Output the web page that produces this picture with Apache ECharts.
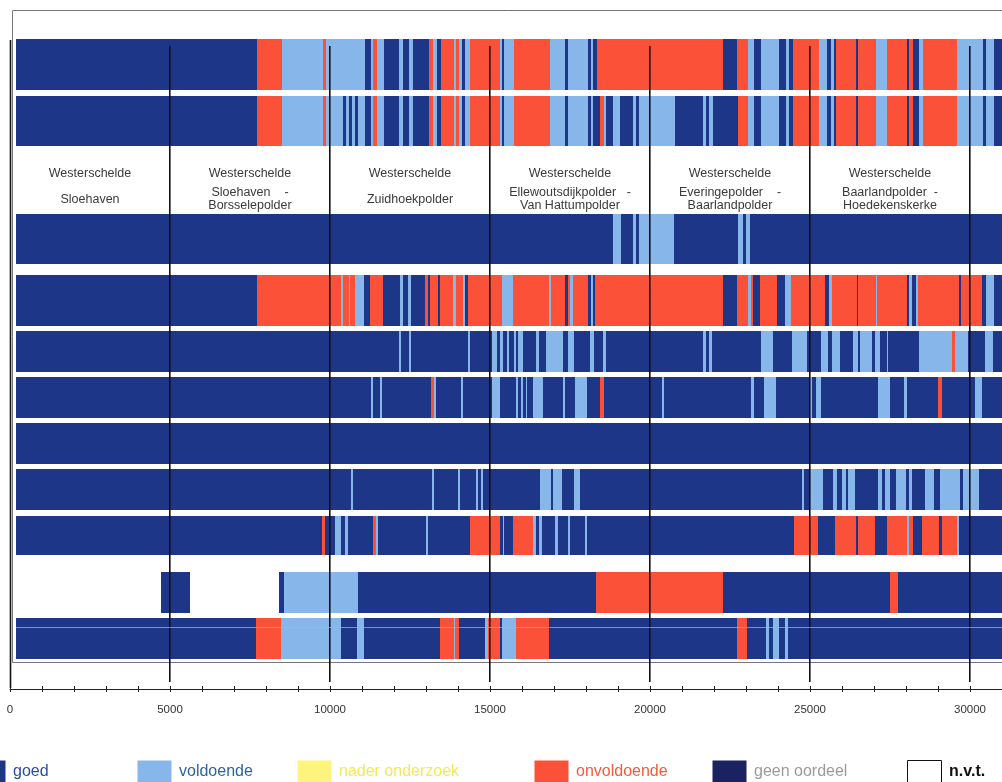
<!DOCTYPE html>
<html><head><meta charset="utf-8">
<script src="https://cdn.jsdelivr.net/npm/echarts@6/dist/echarts.min.js"></script>
<style>html,body{margin:0;padding:0;background:#fff;overflow:hidden}#c{width:1002px;height:782px}</style>
</head><body><div id="c"></div>
<script>
// ---- data (dike position in metres, status code from that position onward) ----
const DIKE_END = 31000;
const STATUS_CODES = ['g','v','n','o','x','-'];
const STATUS_LABELS = ['goed','voldoende','nader onderzoek','onvoldoende','geen oordeel','n.v.t.'];

const row1 = [190,'g',7720,'o',8500,'v',9780,'o',9880,'v',11090,'g',11280,'v',11340,'o',11470,'v',11690,'g',12160,'v',12280,'g',12470,'v',12590,'g',13090,'o',13220,'v',13340,'g',13470,'o',13880,'v',13940,'o',14030,'v',14130,'g',14220,'v',14380,'o',15310,'v',15380,'g',15440,'v',15750,'o',16880,'v',17340,'g',17440,'v',18060,'g',18160,'v',18220,'g',18340,'o',22280,'g',22720,'o',23060,'v',23250,'g',23470,'v',24030,'g',24250,'v',24340,'g',24470,'o',25280,'v',25530,'g',25660,'v',25750,'g',25810,'o',26440,'g',26500,'o',27060,'v',27410,'o',28030,'g',28090,'o',28220,'g',28410,'v',28530,'o',29590,'v',30410,'g',30500,'v',30750,'g'];
const row2 = [190,'g',7720,'o',8500,'v',9780,'o',9880,'v',10410,'g',10500,'v',10590,'g',10690,'v',10780,'g',10880,'v',11090,'g',11280,'v',11340,'o',11470,'v',11690,'g',12160,'v',12280,'g',12470,'v',12590,'g',13090,'o',13220,'v',13340,'g',13470,'o',13880,'v',13940,'o',14030,'v',14130,'g',14220,'v',14380,'o',15310,'v',15380,'g',15440,'v',15750,'o',16880,'v',17340,'g',17440,'v',18050,'g',18160,'v',18230,'g',18440,'o',18560,'v',18630,'g',18830,'v',19060,'g',19480,'v',19560,'g',19670,'v',20780,'g',21660,'v',21750,'g',21850,'v',21960,'g',22750,'o',23070,'v',23250,'g',23470,'v',24030,'g',24250,'v',24340,'g',24470,'o',25280,'v',25530,'g',25660,'v',25750,'g',25810,'o',26440,'g',26500,'o',27060,'v',27410,'o',28030,'g',28090,'o',28220,'g',28410,'v',28530,'o',29590,'v',30410,'g',30500,'v',30750,'g'];
const row3 = [190,'g',18840,'v',19090,'g',19470,'v',19560,'g',19660,'v',20750,'g',22750,'v',22910,'g',23000,'v',23130,'g'];
const row4 = [190,'g',7720,'o',10340,'v',10410,'o',10590,'v',10630,'o',10780,'v',11060,'g',11250,'o',11660,'g',12190,'v',12280,'g',12440,'v',12530,'g',12970,'o',13060,'g',13130,'o',13380,'g',13440,'o',13840,'v',13940,'o',14160,'v',14220,'g',14310,'o',15380,'v',15720,'o',16840,'v',16910,'o',17340,'g',17440,'o',17500,'v',17590,'o',18060,'g',18160,'v',18220,'g',18280,'o',22280,'g',22720,'o',23060,'v',23160,'o',23220,'g',23440,'o',23970,'g',24220,'v',24410,'o',25470,'g',25590,'v',25690,'o',26470,'g',26500,'o',27060,'v',27090,'o',28030,'g',28090,'v',28190,'g',28310,'v',28380,'o',29660,'g',29720,'o',30380,'g',30500,'v',30750,'g'];
const row5 = [190,'g',12160,'v',12220,'g',12470,'v',12530,'g',14310,'v',14380,'g',15060,'v',15220,'g',15310,'v',15410,'g',15530,'v',15590,'g',15750,'v',15810,'g',15880,'v',16030,'g',16440,'v',16530,'g',16750,'v',17280,'g',17440,'v',17630,'g',18130,'v',18250,'g',18530,'v',18630,'g',21660,'v',21750,'g',21840,'v',21940,'g',23470,'v',23840,'g',24440,'v',24910,'g',25340,'v',25560,'g',25690,'v',25940,'g',26340,'v',26500,'g',26560,'v',26940,'g',27030,'v',27190,'g',27410,'v',27440,'g',28410,'v',29440,'o',29530,'v',29940,'g',30470,'v',30720,'g'];
const row6 = [190,'g',11280,'v',11340,'g',11560,'v',11630,'g',13160,'o',13250,'v',13310,'g',14090,'v',14160,'g',15060,'v',15310,'g',15810,'v',15880,'g',15970,'v',16030,'g',16130,'v',16160,'g',16340,'v',16660,'g',17280,'v',17340,'g',17660,'v',18030,'g',18440,'o',18560,'g',20380,'v',20440,'g',23160,'v',23250,'g',23560,'v',23940,'g',25000,'v',25060,'g',25190,'v',25340,'g',27130,'v',27500,'g',27940,'v',28030,'g',29000,'o',29130,'g',30160,'v',30380,'g'];
const row7 = [190,'g'];
const row8 = [190,'g',10660,'v',10720,'g',13190,'v',13250,'g',14000,'v',14060,'g',14560,'v',14630,'g',14720,'v',14780,'g',16560,'v',16910,'g',16970,'v',17250,'g',17630,'v',17810,'g',24750,'v',24810,'g',25000,'v',25410,'g',25720,'v',25840,'g',26000,'v',26130,'g',26190,'v',26410,'g',27130,'v',27250,'g',27340,'v',27500,'g',27690,'v',28000,'g',28090,'v',28190,'g',28590,'v',28880,'g',29060,'v',29690,'g',29780,'v',30280,'g'];
const row9 = [190,'g',9750,'o',9840,'g',10160,'v',10340,'g',10470,'v',10560,'g',11340,'o',11440,'v',11500,'g',13000,'v',13060,'g',14380,'o',15310,'g',15410,'v',15440,'g',15720,'o',16340,'v',16440,'g',16530,'v',16630,'g',17030,'v',17130,'g',17440,'v',17500,'g',17970,'v',18030,'g',24500,'o',25250,'g',25780,'o',26440,'g',26500,'o',27030,'g',27410,'o',28030,'v',28090,'o',28220,'g',28500,'o',29030,'g',29130,'o',29590,'v',29660,'g'];
const row10 = [190,'-',4720,'g',5630,'-',8410,'g',8560,'v',10880,'g',18310,'o',22280,'g',27500,'o',27750,'g'];
const row11 = [190,'g',7690,'o',8470,'v',10340,'g',10840,'v',11060,'g',13440,'o',13880,'v',13910,'o',14030,'g',14840,'v',14940,'o',15310,'g',15380,'v',15810,'o',16840,'g',22720,'o',23030,'g',23630,'v',23720,'g',23840,'v',24030,'g',24220,'v',24310,'g'];

const SECTION_BOUNDS = [0,5000,10000,15000,20000,25000,30000];
const SECTION_TITLES = ['Westerschelde','Westerschelde','Westerschelde','Westerschelde','Westerschelde','Westerschelde'];
const SECTION_NAMES = [['Sloehaven'],['Sloehaven    -','Borsselepolder'],['Zuidhoekpolder'],['Ellewoutsdijkpolder   -','Van Hattumpolder'],['Everingepolder    -','Baarlandpolder'],['Baarlandpolder  -','Hoedekenskerke']];
const X_TICK_STEP = 1000, X_LABEL_STEP = 5000;

// ---- layout / style ----
const ROWS = [row1,row2,row3,row4,row5,row6,row7,row8,row9,row10,row11];
const ROW_BANDS = [[39,90],[96,146],[214,264],[275,326],[331,372],[377,418],[423,464],[469,510],[516,555],[572,613],[618,659]];
const COLORS = {g:'#1e3687', v:'#86b6ea', n:'#fcf47c', o:'#fb5138', x:'#1b2262', '-':null};
const LEGEND_SWATCH = ['#1e3687','#86b6ea','#fcf47c','#fb5138','#1b2262','#ffffff'];
const LEGEND_TEXTCOL = ['#2b4c9e','#2f629e','#f4e85a','#f45a3e','#9a9a9a','#111'];
const LEGEND_X = [-29,137,297,534,712,907];

const segData = [];
ROWS.forEach((row, r) => {
  for (let i = 0; i < row.length; i += 2) {
    const start = row[i], code = row[i+1];
    const end = (i + 2 < row.length) ? row[i+2] : DIKE_END;
    segData.push([start, end, r, STATUS_CODES.indexOf(code)]);
  }
});

function renderSeg(params, api) {
  const r = api.value(2), s = api.value(3);
  const col = COLORS[STATUS_CODES[s]];
  if (!col) return {type:'group', children:[]};
  const x0 = Math.round(api.coord([api.value(0), 0])[0]);
  const x1 = Math.round(api.coord([api.value(1), 0])[0]);
  const b = ROW_BANDS[r];
  return {type:'rect', shape:{x:x0, y:b[0], width:Math.max(1, x1-x0), height:b[1]-b[0]}, style:{fill:col}};
}
function renderSep(params, api) {
  const x = Math.floor(api.coord([api.value(0), 0])[0]) - 0.2;
  const first = api.value(0) === 0;
  return {type:'line', shape:{x1:first?x+0.7:x, y1:first?40:46, x2:first?x+0.7:x, y2:first?688:682}, style:{stroke:'#111', lineWidth:1.6}};
}
const FONT = '"Liberation Sans", Arial, sans-serif';
function renderSec(params, api) {
  const i = api.value(2);
  const cx = api.coord([(api.value(0)+api.value(1))/2, 0])[0];
  const names = SECTION_NAMES[i];
  const st = (t, y) => ({type:'text', style:{text:t, x:cx, y:y, align:'center', verticalAlign:'middle', fill:'#3a3a3a', font:'12.5px '+FONT}});
  const children = [st(SECTION_TITLES[i], 174)];
  if (names.length === 1) children.push(st(names[0], 200));
  else { children.push(st(names[0], 193)); children.push(st(names[1], 206)); }
  return {type:'group', children};
}

const secData = SECTION_TITLES.map((t, i) => [SECTION_BOUNDS[i], SECTION_BOUNDS[i+1], i]);

const legendGraphics = [];
STATUS_LABELS.forEach((lab, i) => {
  const x = LEGEND_X[i];
  legendGraphics.push({type:'rect', shape:{x:x+0.5, y:760.5, width:34, height:22},
    style:{fill:LEGEND_SWATCH[i], stroke: i===5 ? '#111' : null, lineWidth: i===5 ? 1 : 0}});
  legendGraphics.push({type:'text', style:{text:lab, x:x+42, y:772, verticalAlign:'middle', fill:LEGEND_TEXTCOL[i],
    font:(i===5?'bold ':'')+'16px '+FONT}});
});

const chart = echarts.init(document.getElementById('c'), null, {renderer:'canvas'});
chart.setOption({
  animation:false,
  backgroundColor:'#fff',
  grid:{left:10, right:0, top:10, bottom:93, outerBoundsMode:'none', containLabel:false},
  xAxis:[
    {type:'value', min:0, max:DIKE_END, interval:X_TICK_STEP, position:'bottom',
     axisLine:{show:true, lineStyle:{color:'#222', width:1}},
     axisTick:{show:true, length:3, lineStyle:{color:'#222'}},
     splitLine:{show:false},
     axisLabel:{margin:15, color:'#333', fontSize:11.5, fontFamily:FONT, hideOverlap:false,
       formatter:v => (v % X_LABEL_STEP === 0 && v < DIKE_END) ? String(v) : ''}},
    {type:'value', min:0, max:DIKE_END, interval:X_TICK_STEP, position:'bottom',
     axisLine:{show:false}, axisLabel:{show:false}, splitLine:{show:false},
     axisTick:{show:true, inside:true, length:3, lineStyle:{color:'#222'}}}
  ],
  yAxis:{type:'value', min:0, max:1, show:false},
  graphic:[
    {type:'rect', z:-1, shape:{x:12.5, y:10.5, width:1100, height:652}, style:{fill:'none', stroke:'#777', lineWidth:1}},
    {type:'line', z:10, shape:{x1:16, y1:627.5, x2:1002, y2:627.5}, style:{stroke:'rgba(150,185,240,0.7)', lineWidth:1}},
    ...legendGraphics
  ],
  series:[
    {type:'custom', name:'segments', renderItem:renderSeg, data:segData, clip:true, z:2, silent:true},
    {type:'custom', name:'sections', renderItem:renderSec, data:secData, clip:false, z:3, silent:true},
    {type:'custom', name:'separators', renderItem:renderSep, data:SECTION_BOUNDS.map(v=>[v]), clip:false, z:4, silent:true}
  ]
});
</script></body></html>
